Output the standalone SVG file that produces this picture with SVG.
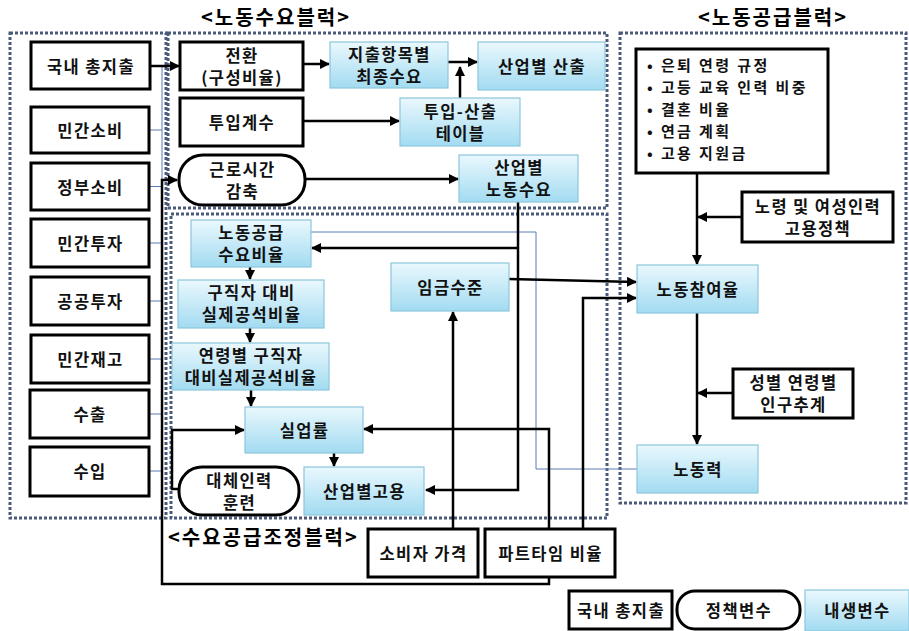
<svg xmlns="http://www.w3.org/2000/svg" width="909" height="631" viewBox="0 0 909 631">
<defs>
<linearGradient id="g" x1="0" y1="0" x2="0" y2="1">
<stop offset="0" stop-color="#eaf8fd"/>
<stop offset="1" stop-color="#a2dbf1"/>
</linearGradient>
<marker id="a" viewBox="0 0 10 10" refX="9" refY="5" markerWidth="10" markerHeight="10" markerUnits="userSpaceOnUse" orient="auto">
<path d="M0,0 L10,5 L0,10 z" fill="#000"/>
</marker>
<style>
.n{fill:#fff;stroke:#000;stroke-width:3}
.e{fill:url(#g);stroke:#8cc6dc;stroke-width:1.2}
.t{font-family:"Noto Sans CJK KR","Noto Sans",sans-serif;font-size:16.5px;letter-spacing:1.4px;font-weight:bold;text-anchor:middle;dominant-baseline:central;fill:#111}
.h{font-family:"Noto Sans CJK KR","Noto Sans",sans-serif;font-size:20px;letter-spacing:2px;font-weight:bold;fill:#000}
.l{font-family:"Noto Sans CJK KR","Noto Sans",sans-serif;font-size:15px;letter-spacing:2.4px;font-weight:bold;fill:#111}
.c{fill:none;stroke:#000;stroke-width:2.5}
.ca{fill:none;stroke:#000;stroke-width:2.5;marker-end:url(#a)}
.b{fill:none;stroke:#5b7db5;stroke-width:1}
.d{fill:none;stroke:#4a5a7a;stroke-width:3;stroke-dasharray:3 2}
</style>
</defs>
<rect width="909" height="631" fill="#fff"/>

<g id="blocks">
<rect class="d" x="10" y="33" width="156" height="485"/>
<rect class="d" x="168" y="33" width="439" height="175"/>
<rect class="d" x="171" y="214" width="436" height="304"/>
<rect class="d" x="620" y="33" width="286" height="470"/>
<text class="h" x="276" y="25" text-anchor="middle">&lt;노동수요블럭&gt;</text>
<text class="h" x="773" y="25" text-anchor="middle">&lt;노동공급블럭&gt;</text>
<text class="h" x="168" y="545">&lt;수요공급조정블럭&gt;</text>
</g>

<g id="connectors">
<path class="b" d="M150,65.5 H162 M150,130 H162 M150,186.5 H162 M150,243 H162 M150,301 H162 M150,359 H162 M150,414 H162 M150,471 H162 M162,65.5 V471"/>
<path class="b" d="M637,469 H536 V232 H311"/>
<path class="ca" d="M150,66 H179"/>
<path class="ca" d="M303,64 H329"/>
<path class="ca" d="M448,62 H477"/>
<path class="ca" d="M460,98 V67"/>
<path class="ca" d="M303,121 H399"/>
<path class="ca" d="M305,179 H458"/>
<path class="ca" d="M518,202 V490 H426"/>
<path class="ca" d="M518,248 H312"/>
<path class="ca" d="M250,267 V279"/>
<path class="ca" d="M250,328 V342"/>
<path class="ca" d="M251,390 V406"/>
<path class="ca" d="M334,453 V466"/>
<path class="ca" d="M178,489 H172 V430 H244"/>
<path class="ca" d="M549,529 V429 H364"/>
<path class="ca" d="M549,577 V584 H162 V180 H177"/>
<path class="ca" d="M583,529 V298 H636"/>
<path class="ca" d="M453,529 V312"/>
<path class="ca" d="M509,279 L636,282"/>
<path class="ca" d="M697,173 V264"/>
<path class="ca" d="M742,217 H698"/>
<path class="ca" d="M697,313 V444"/>
<path class="ca" d="M733,393 H698"/>
</g>

<g id="n_gdp"><rect class="n" x="31" y="42" width="119" height="47"/><text class="t" x="91" y="65.5">국내 총지출</text></g>
<g id="n_pc"><rect class="n" x="31" y="107" width="118" height="46"/><text class="t" x="90.5" y="130">민간소비</text></g>
<g id="n_gc"><rect class="n" x="31" y="163" width="118" height="47"/><text class="t" x="90.5" y="186.5">정부소비</text></g>
<g id="n_pi"><rect class="n" x="31" y="219" width="118" height="48"/><text class="t" x="90.5" y="243">민간투자</text></g>
<g id="n_gi"><rect class="n" x="31" y="277" width="118" height="48"/><text class="t" x="90.5" y="301">공공투자</text></g>
<g id="n_inv"><rect class="n" x="31" y="335" width="118" height="48"/><text class="t" x="90.5" y="359">민간재고</text></g>
<g id="n_ex"><rect class="n" x="30" y="390" width="119" height="48"/><text class="t" x="90" y="414">수출</text></g>
<g id="n_im"><rect class="n" x="30" y="447" width="119" height="49"/><text class="t" x="90" y="471">수입</text></g>

<g id="n_conv"><rect class="n" x="180" y="42" width="123" height="48"/><text class="t" x="242" y="55">전환</text><text class="t" x="242" y="77">(구성비율)</text></g>
<g id="n_coef"><rect class="n" x="180" y="98" width="123" height="48"/><text class="t" x="242" y="122">투입계수</text></g>
<g id="n_hours"><rect class="n" x="179" y="155" width="126" height="50" rx="24"/><text class="t" x="242.5" y="169">근로시간</text><text class="t" x="242.5" y="191">감축</text></g>
<g id="n_final"><rect class="e" x="330" y="42" width="118" height="46"/><text class="t" x="389.5" y="54">지출항목별</text><text class="t" x="389.5" y="76">최종수요</text></g>
<g id="n_output"><rect class="e" x="478" y="42" width="127" height="48"/><text class="t" x="542" y="66">산업별 산출</text></g>
<g id="n_io"><rect class="e" x="400" y="98" width="120" height="48"/><text class="t" x="460.5" y="111">투입-산출</text><text class="t" x="460.5" y="133">테이블</text></g>
<g id="n_ldemand"><rect class="e" x="459" y="155" width="119" height="47"/><text class="t" x="519" y="167">산업별</text><text class="t" x="519" y="189">노동수요</text></g>

<g id="n_ratio"><rect class="e" x="191" y="220" width="120" height="47"/><text class="t" x="251.5" y="232">노동공급</text><text class="t" x="251.5" y="254">수요비율</text></g>
<g id="n_vac"><rect class="e" x="178" y="280" width="146" height="48"/><text class="t" x="251.5" y="292">구직자 대비</text><text class="t" x="251.5" y="314">실제공석비율</text></g>
<g id="n_agevac"><rect class="e" x="172" y="343" width="157" height="47"/><text class="t" x="251" y="355">연령별 구직자</text><text class="t" x="251" y="377">대비실제공석비율</text></g>
<g id="n_wage"><rect class="e" x="391" y="263" width="118" height="48"/><text class="t" x="450.5" y="287">임금수준</text></g>
<g id="n_unemp"><rect class="e" x="245" y="407" width="118" height="46"/><text class="t" x="304.5" y="430">실업률</text></g>
<g id="n_emp"><rect class="e" x="304" y="467" width="120" height="48"/><text class="t" x="364.5" y="491">산업별고용</text></g>
<g id="n_train"><rect class="n" x="179" y="467" width="120" height="48" rx="23"/><text class="t" x="239.5" y="480">대체인력</text><text class="t" x="239.5" y="502">훈련</text></g>
<g id="n_price"><rect class="n" x="368" y="529" width="110" height="48"/><text class="t" x="423.5" y="553">소비자 가격</text></g>
<g id="n_part"><rect class="n" x="485" y="529" width="130" height="48"/><text class="t" x="550.5" y="553">파트타임 비율</text></g>

<g id="n_factors"><rect class="n" x="636" y="49" width="192" height="124"/>
<text class="l" x="647" y="71">• 은퇴 연령 규정</text>
<text class="l" x="647" y="93">• 고등 교육 인력 비중</text>
<text class="l" x="647" y="115">• 결혼 비율</text>
<text class="l" x="647" y="137">• 연금 계획</text>
<text class="l" x="647" y="159">• 고용 지원금</text>
</g>
<g id="n_policy"><rect class="n" x="742" y="192" width="151" height="50"/><text class="t" x="818" y="206">노령 및 여성인력</text><text class="t" x="818" y="228">고용정책</text></g>
<g id="n_lfp"><rect class="e" x="637" y="265" width="121" height="48"/><text class="t" x="698" y="289">노동참여율</text></g>
<g id="n_pop"><rect class="n" x="733" y="369" width="120" height="49"/><text class="t" x="793.5" y="382">성별 연령별</text><text class="t" x="793.5" y="404">인구추계</text></g>
<g id="n_lf"><rect class="e" x="637" y="445" width="121" height="48"/><text class="t" x="698" y="469">노동력</text></g>

<g id="legend">
<rect class="n" x="569" y="591" width="103" height="38"/><text class="t" x="621" y="610">국내 총지출</text>
<rect class="n" x="677" y="591" width="123" height="38" rx="18"/><text class="t" x="739" y="610">정책변수</text>
<rect class="e" x="805" y="590" width="104" height="41"/><text class="t" x="857.5" y="610">내생변수</text>
</g>
</svg>
